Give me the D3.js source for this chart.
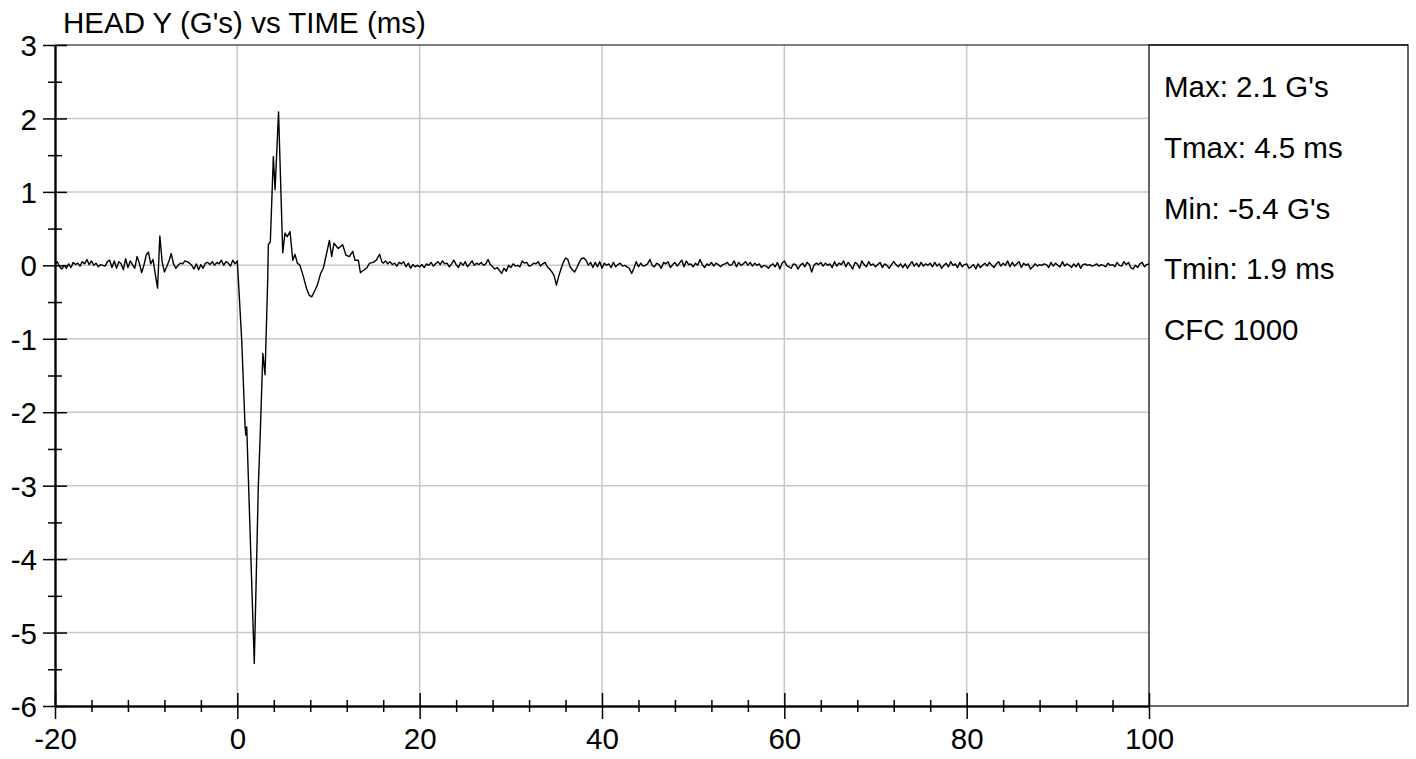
<!DOCTYPE html>
<html>
<head>
<meta charset="utf-8">
<script src="https://cdn.jsdelivr.net/npm/d3@7"></script>
<style>
  html, body { margin: 0; padding: 0; background: #fff; }
  svg { display: block; font-family: "Liberation Sans", Arial, sans-serif; }
</style>
</head>
<body>
<svg id="chart" width="1416" height="759"></svg>
<script>
// ---------------- data ----------------
const chartTitle = "HEAD Y (G's) vs TIME (ms)";
const statLines = ["Max: 2.1 G's", "Tmax: 4.5 ms", "Min: -5.4 G's", "Tmin: 1.9 ms", "CFC 1000"];
const xMajorTicks = [-20, 0, 20, 40, 60, 80, 100];
const yMajorTicks = [3, 2, 1, 0, -1, -2, -3, -4, -5, -6];
const xGridTicks = [0, 20, 40, 60, 80];
const yGridTicks = [2, 1, 0, -1, -2, -3, -4, -5];

// pre-event samples: t = -20 .. 0, every 0.25 ms
const preStart = -20, preStep = 0.25;
const preValues = [
  0.02, 0.05, -0.02, -0.05,
  0.00, -0.04, 0.02, -0.03,
  0.04, 0.01, 0.03, -0.01,
  0.05, 0.02, 0.08, 0.01,
  0.06, 0.00, 0.03, -0.02,
  0.01, 0.00, -0.01, 0.05,
  0.07, -0.03, 0.06, -0.04,
  0.05, 0.02, -0.06, 0.09,
  -0.03, 0.06, 0.01, -0.04,
  0.12, 0.03, -0.10, 0.00,
  0.14, 0.18, 0.02, 0.08,
  -0.12, -0.31, 0.40, 0.05,
  -0.09, -0.02, 0.06, 0.16,
  0.02, -0.04, 0.00, 0.03,
  0.02, 0.06, 0.05, 0.03,
  0.00, -0.05, 0.02, -0.06,
  0.01, -0.04, 0.03, 0.04,
  0.01, 0.05, 0.00, 0.04,
  0.02, 0.07, 0.00, 0.05,
  0.03, -0.01, 0.07, 0.02,
  0.06
];

// impact event samples (irregular times)
const eventTimes = [0.48, 0.85, 0.93, 1.03, 1.86, 2.3, 2.49, 2.8, 3.04, 3.33, 3.4, 3.62, 3.95, 4.14, 4.52, 4.98,
  5.23, 5.48, 5.78, 6.08, 6.33, 6.58, 6.87, 7.24, 7.6, 7.9, 8.16, 8.52, 8.77, 9.14, 9.43, 9.72, 10.1, 10.35, 10.6,
  11.07, 11.55, 11.91, 12.27, 12.66, 12.9, 13.27, 13.5, 13.8, 14.16, 14.52, 14.9, 15.25, 15.6, 15.85];
const eventValues = [-1.02, -2.2, -2.31, -2.2, -5.42, -3.01, -2.38, -1.2, -1.49, -0.2, 0.28, 0.32, 1.48, 1.03, 2.09, 0.17,
  0.44, 0.39, 0.46, 0.07, 0.15, 0.03, 0.0, -0.15, -0.32, -0.41, -0.43, -0.34, -0.27, -0.11, -0.04, 0.12, 0.34, 0.12, 0.3,
  0.23, 0.28, 0.14, 0.12, 0.19, 0.07, 0.07, -0.1, -0.07, -0.04, 0.03, 0.04, 0.07, 0.15, 0.05];

// post-event samples: t = 16 .. 100, every 0.25 ms
const postStart = 16, postStep = 0.25;
const postValues = [
  0.03, 0.06, 0.02, 0.05,   0.01, 0.03, -0.01, 0.04,   0.02, 0.05, -0.02, 0.03,   -0.04, 0.01, -0.02, 0.00,
  -0.02, 0.01, -0.03, 0.02,   0.00, 0.04, -0.01, 0.02,   0.05, 0.01, 0.06, 0.02,   0.03, -0.02, 0.02, 0.07,
  0.01, -0.03, 0.04, 0.00,   0.05, -0.02, 0.02, 0.06,   0.00, 0.03, 0.01, 0.04,   0.00, 0.02, 0.08, 0.01,
  -0.02, -0.05, -0.03, -0.07,   -0.11, -0.04, -0.08, 0.00,   -0.03, 0.02, -0.01, 0.00,   -0.02, 0.06, 0.03, 0.04,
  -0.01, 0.00, 0.03, 0.02,   0.05, -0.01, 0.02, 0.04,   -0.02, -0.05, -0.09, -0.14,   -0.27, -0.15, -0.05, 0.04,
  0.10, 0.08, -0.02, -0.06,   -0.09, -0.03, 0.04, 0.09,   0.10, 0.07, 0.00, 0.04,   -0.03, 0.04, -0.02, 0.05,
  -0.04, 0.03, 0.00, 0.02,   -0.03, 0.04, -0.02, 0.01,   0.03, -0.01, 0.00, -0.02,   -0.04, -0.11, -0.04, 0.05,
  -0.02, 0.03, -0.01, 0.00,   0.02, 0.08, 0.00, -0.02,   0.03, 0.01, -0.04, 0.04,   0.02, 0.05, -0.03, 0.01,
  0.04, -0.01, 0.03, 0.07,   -0.02, 0.06, 0.01, 0.02,   -0.02, 0.03, 0.00, 0.08,   0.01, -0.03, 0.02, 0.00,
  0.04, -0.01, 0.03, 0.01,   -0.02, 0.01, 0.02, 0.04,   0.00, 0.01, 0.06, -0.02,   0.04, 0.00, 0.02, 0.05,
  0.00, 0.04, -0.01, 0.03,   0.00, 0.02, -0.03, 0.00,   -0.01, -0.04, 0.00, 0.02,   -0.02, 0.04, -0.05, 0.03,
  0.06, 0.00, -0.02, -0.04,   0.02, 0.01, -0.05, 0.00,   0.03, -0.02, 0.04, 0.01,   -0.09, 0.00, 0.03, 0.01,
  0.04, -0.01, 0.03, 0.00,   0.02, -0.03, 0.05, -0.01,   0.03, 0.01, 0.06, -0.02,   0.04, 0.00, -0.05, 0.04,
  0.02, -0.04, 0.06, 0.01,   -0.02, 0.05, 0.00, 0.02,   -0.02, 0.01, 0.04, -0.03,   0.02, 0.00, -0.04, 0.01,
  0.05, 0.01, -0.02, 0.02,   -0.03, 0.02, -0.04, 0.01,   0.05, -0.01, 0.03, -0.02,   0.04, -0.01, 0.02, 0.00,
  0.03, -0.02, 0.04, -0.01,   0.02, -0.04, 0.00, 0.03,   -0.02, 0.05, 0.00, 0.02,   -0.03, 0.04, -0.02, 0.01,
  0.02, -0.04, -0.02, 0.01,   -0.05, 0.02, -0.03, 0.00,   0.03, -0.01, 0.04, 0.00,   -0.03, 0.02, 0.05, -0.01,
  0.03, 0.00, 0.06, -0.02,   0.04, -0.01, 0.02, 0.05,   -0.03, 0.03, 0.00, 0.02,   -0.05, -0.02, 0.02, -0.01,
  0.01, 0.00, 0.02, 0.01,   -0.03, 0.04, -0.01, 0.03,   0.00, -0.02, 0.05, -0.01,   0.02, 0.00, -0.03, 0.02,
  -0.02, 0.03, -0.04, 0.01,   0.02, 0.00, 0.01, -0.01,   0.00, 0.02, -0.01, 0.01,   0.00, -0.02, 0.03, 0.00,
  0.01, -0.02, 0.04, 0.00,   -0.01, 0.05, 0.01, 0.04,   -0.03, -0.05, 0.00, -0.03,   0.02, 0.04, -0.02, 0.01,
  0.02
];

// ---------------- assemble ----------------
const points = [];
preValues.forEach((v, i) => points.push([preStart + i * preStep, v]));
eventTimes.forEach((t, i) => points.push([t, eventValues[i]]));
postValues.forEach((v, i) => points.push([postStart + i * postStep, v]));

// ---------------- layout ----------------
const W = 1416, H = 759;
const plot = { left: 55, right: 1149, top: 45, bottom: 706 };
const panelRight = 1408;
const FONT = 29.5;

const svg = d3.select("#chart");
svg.append("rect").attr("width", W).attr("height", H).attr("fill", "#fff");

const x = d3.scaleLinear().domain([-20, 100]).range([plot.left, plot.right]);
const y = d3.scaleLinear().domain([-6, 3]).range([plot.bottom, plot.top]);
const fmt = d => String(d);  // plain hyphen-minus like the reference

// grid
const grid = svg.append("g").attr("stroke", "#c8c8c8").attr("stroke-width", 1.5);
grid.selectAll("line.vx").data(xGridTicks).join("line")
  .attr("x1", d => x(d)).attr("x2", d => x(d))
  .attr("y1", plot.top).attr("y2", plot.bottom);
grid.selectAll("line.hy").data(yGridTicks).join("line")
  .attr("x1", plot.left).attr("x2", plot.right)
  .attr("y1", d => y(d)).attr("y2", d => y(d));

// data line
svg.append("clipPath").attr("id", "clip").append("rect")
  .attr("x", plot.left).attr("y", plot.top)
  .attr("width", plot.right - plot.left).attr("height", plot.bottom - plot.top);
const line = d3.line().x(d => x(d[0])).y(d => y(d[1]));
svg.append("path").datum(points)
  .attr("clip-path", "url(#clip)")
  .attr("fill", "none").attr("stroke", "#000").attr("stroke-width", 1.4)
  .attr("stroke-linejoin", "round")
  .attr("d", line);

// frame: top line across plot+panel, stat panel box
svg.append("line").attr("x1", plot.left).attr("x2", panelRight)
  .attr("y1", plot.top).attr("y2", plot.top).attr("stroke", "#000").attr("stroke-width", 1.2);
svg.append("rect").attr("x", plot.right).attr("y", plot.top)
  .attr("width", panelRight - plot.right).attr("height", plot.bottom - plot.top)
  .attr("fill", "none").attr("stroke", "#000").attr("stroke-width", 1.2);

// axes (crossing ticks: outward + inward passes)
function styleAxis(g) {
  g.selectAll("path.domain").attr("stroke", "#000").attr("stroke-width", 1.5);
  g.selectAll(".tick line").attr("stroke", "#000").attr("stroke-width", 1.5);
}
const xMinor = d3.range(-20, 100.001, 4).filter(v => xMajorTicks.indexOf(v) < 0);
const yMinor = d3.range(-5.5, 3, 1);

const gx = svg.append("g").attr("transform", `translate(0,${plot.bottom})`);
gx.append("g").call(d3.axisBottom(x).tickValues(xMinor).tickSize(6).tickSizeOuter(0).tickFormat(""))
  .call(styleAxis);
gx.append("g").call(d3.axisBottom(x).tickValues(xMinor).tickSize(-6).tickSizeOuter(0).tickFormat(""))
  .call(styleAxis);
gx.append("g").call(d3.axisBottom(x).tickValues(xMajorTicks).tickSize(-13).tickSizeOuter(0).tickFormat(""))
  .call(styleAxis);
gx.append("g").call(d3.axisBottom(x).tickValues(xMajorTicks).tickSize(13).tickSizeOuter(0).tickPadding(8)
  .tickFormat(fmt))
  .call(styleAxis)
  .call(g => g.selectAll("text").attr("font-size", FONT).attr("fill", "#000")
    .attr("font-family", "Liberation Sans, Arial, sans-serif").attr("dy", "0.71em"));
gx.selectAll(".tick text").attr("y", 22);

const gy = svg.append("g").attr("transform", `translate(${plot.left},0)`);
gy.append("g").call(d3.axisLeft(y).tickValues(yMinor).tickSize(7).tickSizeOuter(0).tickFormat(""))
  .call(styleAxis);
gy.append("g").call(d3.axisLeft(y).tickValues(yMinor).tickSize(-7).tickSizeOuter(0).tickFormat(""))
  .call(styleAxis);
gy.append("g").call(d3.axisLeft(y).tickValues(yMajorTicks).tickSize(-12).tickSizeOuter(0).tickFormat(""))
  .call(styleAxis);
gy.append("g").call(d3.axisLeft(y).tickValues(yMajorTicks).tickSize(12).tickSizeOuter(0).tickPadding(7)
  .tickFormat(fmt))
  .call(styleAxis)
  .call(g => g.selectAll("text").attr("font-size", FONT).attr("fill", "#000")
    .attr("font-family", "Liberation Sans, Arial, sans-serif").attr("dy", "0.36em"));
gy.selectAll(".tick text").attr("x", -18);

// title
svg.append("text").attr("x", 63).attr("y", 33)
  .attr("font-size", FONT).attr("fill", "#000").text(chartTitle);

// stats panel text
svg.append("g").selectAll("text").data(statLines).join("text")
  .attr("x", 1164).attr("y", (d, i) => 97 + i * 60.8)
  .attr("font-size", FONT).attr("fill", "#000").text(d => d);
</script>
</body>
</html>
